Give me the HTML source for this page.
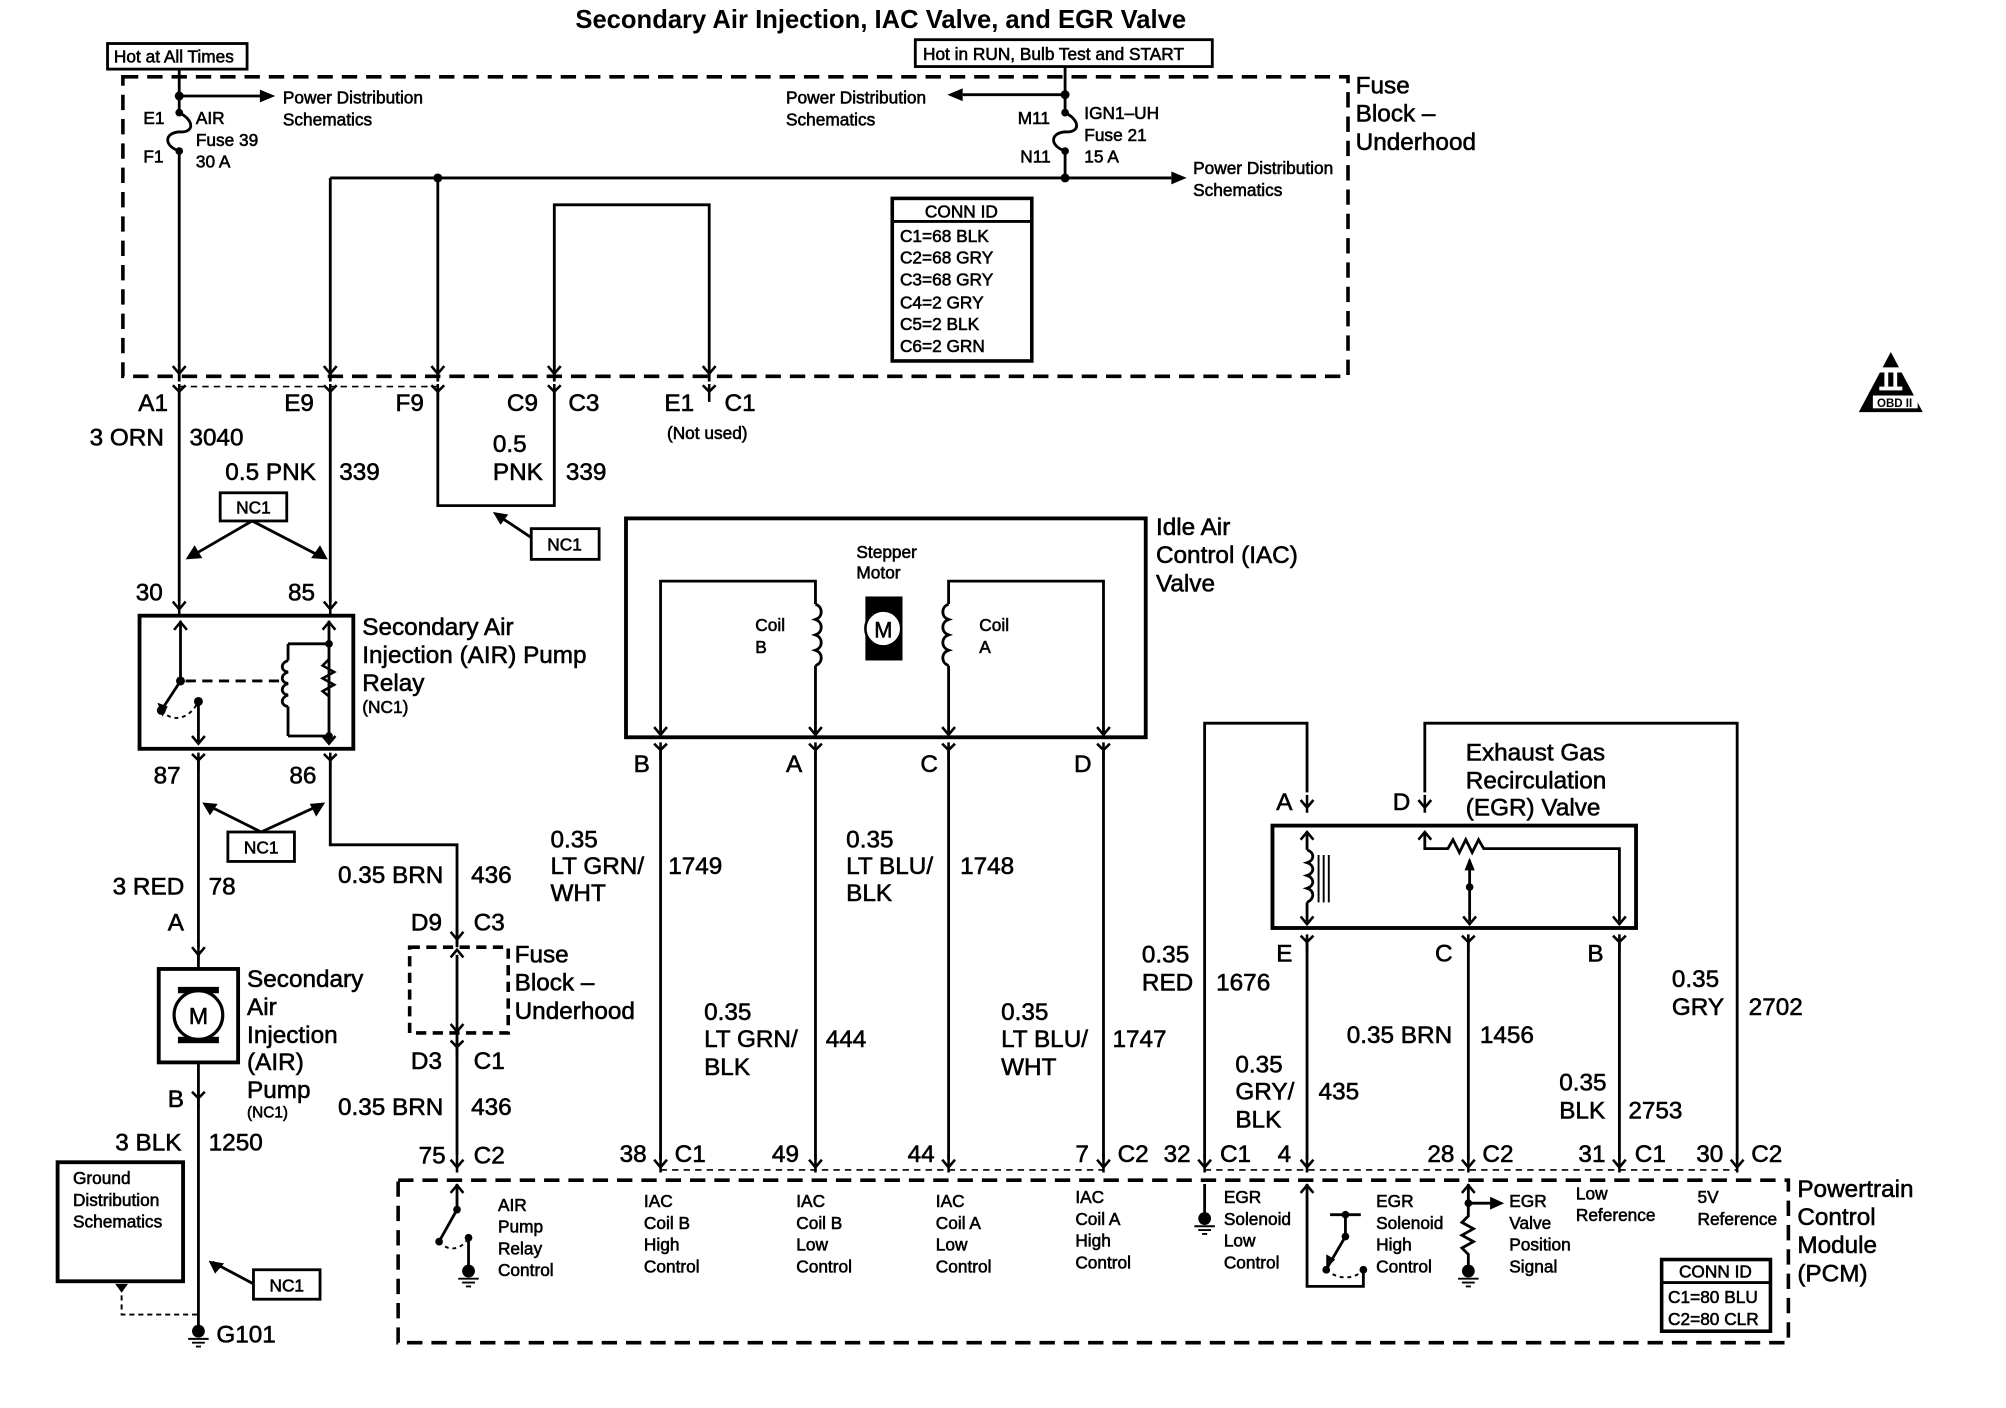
<!DOCTYPE html>
<html><head><meta charset="utf-8"><style>
html,body{margin:0;padding:0;background:#fff}
svg{display:block}
text{font-family:"Liberation Sans",Arial,sans-serif;fill:#000;stroke:#000;stroke-width:0.45}
.L{font-size:19px}
.S{font-size:13.5px}
.T{font-size:20px;font-weight:bold;stroke:none}
</style></head><body>
<svg width="2006" height="1408" viewBox="0 0 1567 1100" preserveAspectRatio="none" xmlns="http://www.w3.org/2000/svg">
<defs>
<g id="ya"><path d="M0,-6 V8 M-5,-2 L0,4 L5,-2" fill="none" stroke="#000" stroke-width="2"/></g>
<g id="yd"><path d="M0,-6 V8 M-5,-5 L0,0 L5,-5" fill="none" stroke="#000" stroke-width="2"/></g>
<g id="ad"><path d="M-5,-6 L0,0 L5,-6" fill="none" stroke="#000" stroke-width="2"/></g>
<g id="au"><path d="M-5,6 L0,0 L5,6" fill="none" stroke="#000" stroke-width="2"/></g>
<g id="gnd"><circle cx="0" cy="0" r="5"/><path d="M-8,6 H8 M-5,9 H5 M-2,12 H2" stroke="#000" stroke-width="1.5"/></g>
</defs>
<rect width="1567" height="1100" fill="#fff"/>
<g fill="none" stroke="#000" stroke-width="2.2">
<rect x="96" y="60" width="957" height="234" stroke-dasharray="12,7" stroke-width="2.8"/>
<rect x="84" y="34" width="109" height="20"/>
<rect x="715" y="31" width="232" height="21"/>
<path d="M140,54 V88 M140,118 V298"/>
<path d="M140,88 C152,94 152,104 140,103 C128,104 128,114 140,118"/>
<path d="M140,75 H205"/>
<path d="M832,52 V88 M832,118 V139"/>
<path d="M832,88 C844,94 844,104 832,103 C820,104 820,114 832,118"/>
<path d="M832,74 H752"/>
<path d="M258,139 H915"/>
<path d="M258,139 V298 M342,139 V298"/>
<path d="M433,298 V160 H554 V298"/>
<rect x="697" y="155" width="109" height="127" stroke-width="2.8"/>
<path d="M697,173 H806"/>
<path d="M140,302 H342" stroke-dasharray="5,4" stroke-width="1.3"/>
<path d="M516,914 H862 M941,914 H1357" stroke-dasharray="5,4" stroke-width="1.3"/>
<path d="M140,306 V470 M258,306 V470"/>
<path d="M342,306 V395 H433 V306"/>
<rect x="172" y="385" width="52" height="22"/>
<path d="M197,407 L147,436 M197,407 L253,436"/>
<rect x="415" y="413" width="53" height="24"/>
<path d="M415,420 L388,402"/>
<rect x="109" y="481" width="167" height="104" stroke-width="3"/>
<path d="M141,485 V532 L126,555 M257,485 V580 M155,548 V580" />
<path d="M145,532 H218" stroke-dasharray="8,5"/>
<path d="M126,555 C135,565 148,562 155,548" stroke-dasharray="3,3" stroke-width="1.5"/>
<path d="M225,503 H257 M225,575 H257 M225,503 V516 M225,552 V575"/>
<path d="M225,516 c-6,2 -6,8 0,9 c-6,2 -6,8 0,9 c-6,2 -6,8 0,9 c-6,2 -6,8 0,9"/>
<path d="M257,515 l-5,5 l9,5 l-9,5 l9,5 l-9,5 l5,4" stroke-width="2"/>
<path d="M155,594 V740 M258,594 V660 H357 V740"/>
<rect x="178" y="650" width="52" height="23"/>
<path d="M204,650 L160,628 M204,650 L252,628"/>
<rect x="124" y="757" width="62" height="73" stroke-width="3"/>
<path d="M155,746 V757 M155,830 V1040"/>
<rect x="45" y="908" width="98" height="93" stroke-width="3"/>
<path d="M95,1012 V1027 H155" stroke-dasharray="4,3" stroke-width="1.5"/>
<rect x="198" y="992" width="52" height="23"/>
<path d="M198,1003 L166,986"/>
<rect x="320" y="740" width="77" height="67" stroke-dasharray="8,5" stroke-width="2.8"/>
<path d="M357,746 V902"/>
<rect x="489" y="405" width="406" height="171" stroke-width="3"/>
<path d="M516,574 V454 H637 V472 M637,520 V574"/>
<path d="M637,472 c6,2 6,10 0,12 c6,2 6,10 0,12 c6,2 6,10 0,12 c6,2 6,10 0,12"/>
<path d="M862,574 V454 H741 V472 M741,520 V574"/>
<path d="M741,472 c-6,2 -6,10 0,12 c-6,2 -6,10 0,12 c-6,2 -6,10 0,12 c-6,2 -6,10 0,12"/>
<path d="M516,586 V906 M637,586 V906 M741,586 V906 M862,586 V906"/>
<path d="M941,906 V565 H1021 V619 M1113,619 V565 H1357 V906"/>
<rect x="994" y="645" width="284" height="80" stroke-width="3"/>
<path d="M1021,650 V664 M1021,705 V720"/>
<path d="M1021,664 c6,2 6,8 0,10 c6,2 6,8 0,10 c6,2 6,8 0,10 c6,2 6,8 0,11"/>
<path d="M1030,668 V705 M1034,668 V705 M1038,668 V705" stroke-width="1.5"/>
<path d="M1113,650 V663 H1131 l4,-7 l5,10 l5,-10 l5,10 l5,-10 l4,7 H1265 V720"/>
<path d="M1148,672 V720"/>
<path d="M1021,736 V906 M1147,736 V906 M1265,736 V906"/>
<rect x="311" y="922" width="1086" height="127" stroke-dasharray="12,7" stroke-width="2.8"/>
<path d="M357,925 V945 L343,970" />
<path d="M343,970 C350,978 360,977 366,967" stroke-dasharray="3,3" stroke-width="1.5" />
<path d="M366,967 V990"/>
<path d="M941,925 V950"/>
<path d="M1021,925 V1005 H1065 V992 M1039,949 H1063 M1051,949 V966 L1037,990"/>
<path d="M1036,992 C1045,1000 1058,1000 1065,992" stroke-dasharray="3,3" stroke-width="1.5"/>
<path d="M1147,925 V940 H1165 M1147,940 V950 l-5,5 l9,5 l-9,5 l9,5 l-9,5 l5,5 V990"/>
<rect x="1298" y="984" width="85" height="56" stroke-width="2.8"/>
<path d="M1298,1002 H1383"/>
</g>
<g fill="#000">
<circle cx="140" cy="75" r="3.5"/><circle cx="140" cy="88" r="3"/><circle cx="140" cy="118" r="3"/>
<circle cx="832" cy="74" r="3.5"/><circle cx="832" cy="88" r="3"/><circle cx="832" cy="118" r="3"/>
<circle cx="832" cy="139" r="3.5"/><circle cx="342" cy="139" r="3.5"/>
<circle cx="141" cy="532" r="3.5"/><circle cx="126" cy="555" r="3.5"/><circle cx="155" cy="548" r="3.5"/>
<circle cx="257" cy="503" r="3"/><circle cx="257" cy="575" r="3"/>
<circle cx="1148" cy="693" r="3"/>
<circle cx="357" cy="945" r="3"/><circle cx="343" cy="970" r="3"/><circle cx="366" cy="967" r="3"/>
<circle cx="1051" cy="949" r="3"/><circle cx="1051" cy="966" r="3"/><circle cx="1036" cy="992" r="3"/><circle cx="1065" cy="992" r="3"/><circle cx="1147" cy="940" r="3"/>
<path d="M215,75 L203,70 L203,80Z"/><path d="M740,74 L752,69 L752,79Z"/><path d="M927,139 L915,134 L915,144Z"/>
<path d="M1175,940 L1164,935 L1164,945Z"/>
<path d="M95,1010 L90,1003 L100,1003Z"/>
<path d="M145,437 L158,436 L152,426Z"/><path d="M256,437 L250,426 L243,436Z"/>
<path d="M385,400 L397,402 L391,410Z"/>
<path d="M158,627 L164,637 L170,628Z"/><path d="M254,627 L242,628 L247,638Z"/>
<path d="M163,985 L168,995 L175,987Z"/>
<path d="M127,560 L123,549 L131,552Z"/>
<path d="M1036,991 L1036,980 L1043,984Z"/>
<path d="M1148,670 L1144,680 L1152,680Z"/>
<rect x="676" y="466" width="29" height="50"/>
<path d="M1452,322 L1477,275 L1502,322Z"/>
</g>
<circle cx="690" cy="491" r="14" fill="#fff" stroke="#000" stroke-width="2"/>
<rect x="139" y="771" width="32" height="5" fill="#000"/><rect x="139" y="810" width="32" height="5" fill="#000"/>
<circle cx="155" cy="793" r="19" fill="#fff" stroke="#000" stroke-width="2.5"/>
<rect x="1468" y="287" width="18" height="4" fill="#fff"/><rect x="1468" y="302" width="18" height="3" fill="#fff"/>
<rect x="1472" y="291" width="3" height="11" fill="#fff"/><rect x="1479" y="291" width="3" height="11" fill="#fff"/>
<rect x="1463" y="309" width="35" height="10" fill="#fff"/>
<text x="1480" y="318" font-size="9" text-anchor="middle" style="font-weight:bold;stroke:none">OBD II</text>
<g>
<use href="#ad" x="140" y="292"/><use href="#ad" x="258" y="292"/><use href="#ad" x="342" y="292"/><use href="#ad" x="433" y="292"/><use href="#ad" x="554" y="292"/>
<use href="#yd" x="140" y="306"/><use href="#yd" x="258" y="306"/><use href="#yd" x="342" y="306"/><use href="#yd" x="433" y="306"/><use href="#yd" x="554" y="306"/>
<use href="#ya" x="140" y="472"/><use href="#ya" x="258" y="472"/>
<use href="#au" x="141" y="486"/><use href="#au" x="257" y="486"/>
<use href="#ad" x="155" y="581"/><use href="#ad" x="257" y="581"/>
<use href="#yd" x="155" y="594"/><use href="#yd" x="258" y="594"/>
<use href="#ya" x="155" y="742"/><use href="#ya" x="357" y="730"/>
<use href="#ad" x="357" y="806"/><use href="#au" x="357" y="742"/>
<use href="#yd" x="357" y="818"/>
<use href="#yd" x="155" y="858"/>
<use href="#ad" x="516" y="574"/><use href="#ad" x="637" y="574"/><use href="#ad" x="741" y="574"/><use href="#ad" x="862" y="574"/>
<use href="#yd" x="516" y="586"/><use href="#yd" x="637" y="586"/><use href="#yd" x="741" y="586"/><use href="#yd" x="862" y="586"/>
<use href="#ya" x="1021" y="627"/><use href="#ya" x="1113" y="627"/>
<use href="#au" x="1021" y="650"/><use href="#au" x="1113" y="650"/>
<use href="#ad" x="1021" y="722"/><use href="#ad" x="1148" y="722"/><use href="#ad" x="1265" y="722"/>
<use href="#yd" x="1021" y="736"/><use href="#yd" x="1147" y="736"/><use href="#yd" x="1265" y="736"/>
<use href="#ya" x="357" y="908"/><use href="#ya" x="516" y="908"/><use href="#ya" x="637" y="908"/><use href="#ya" x="741" y="908"/><use href="#ya" x="862" y="908"/>
<use href="#ya" x="941" y="908"/><use href="#ya" x="1021" y="908"/><use href="#ya" x="1147" y="908"/><use href="#ya" x="1265" y="908"/><use href="#ya" x="1357" y="908"/>
<use href="#au" x="357" y="926"/><use href="#au" x="1021" y="926"/><use href="#au" x="1147" y="926"/>
<use href="#gnd" x="155" y="1040"/><use href="#gnd" x="941" y="952"/><use href="#gnd" x="366" y="993"/><use href="#gnd" x="1147" y="993"/>
</g>
<text class="T" x="688" y="22" text-anchor="middle">Secondary Air Injection, IAC Valve, and EGR Valve</text>
<g class="S">
<text x="89" y="49">Hot at All Times</text>
<text x="721" y="47">Hot in RUN, Bulb Test and START</text>
<text x="221" y="81">Power Distribution</text><text x="221" y="98">Schematics</text>
<text x="112" y="97">E1</text><text x="112" y="127">F1</text>
<text x="153" y="97">AIR</text><text x="153" y="114">Fuse 39</text><text x="153" y="131">30 A</text>
<text x="614" y="81">Power Distribution</text><text x="614" y="98">Schematics</text>
<text x="795" y="97">M11</text><text x="797" y="127">N11</text>
<text x="847" y="93">IGN1–UH</text><text x="847" y="110">Fuse 21</text><text x="847" y="127">15 A</text>
<text x="932" y="136">Power Distribution</text><text x="932" y="153">Schematics</text>
<text x="751" y="170" text-anchor="middle">CONN ID</text>
<text x="703" y="189">C1=68 BLK</text><text x="703" y="206">C2=68 GRY</text><text x="703" y="223">C3=68 GRY</text><text x="703" y="241">C4=2 GRY</text><text x="703" y="258">C5=2 BLK</text><text x="703" y="275">C6=2 GRN</text>
<text x="521" y="343">(Not used)</text>
<text x="198" y="401" text-anchor="middle">NC1</text><text x="441" y="430" text-anchor="middle">NC1</text>
<text x="204" y="667" text-anchor="middle">NC1</text><text x="224" y="1009" text-anchor="middle">NC1</text>
<text x="283" y="557">(NC1)</text><text x="193" y="873" font-size="12">(NC1)</text>
<text x="57" y="925">Ground</text><text x="57" y="942">Distribution</text><text x="57" y="959">Schematics</text>
<text x="669" y="436">Stepper</text><text x="669" y="452">Motor</text>
<text x="590" y="493">Coil</text><text x="590" y="510">B</text>
<text x="765" y="493">Coil</text><text x="765" y="510">A</text>
<text x="389" y="946">AIR</text><text x="389" y="963">Pump</text><text x="389" y="980">Relay</text><text x="389" y="997">Control</text>
<text x="503" y="943">IAC</text><text x="503" y="960">Coil B</text><text x="503" y="977">High</text><text x="503" y="994">Control</text>
<text x="622" y="943">IAC</text><text x="622" y="960">Coil B</text><text x="622" y="977">Low</text><text x="622" y="994">Control</text>
<text x="731" y="943">IAC</text><text x="731" y="960">Coil A</text><text x="731" y="977">Low</text><text x="731" y="994">Control</text>
<text x="840" y="940">IAC</text><text x="840" y="957">Coil A</text><text x="840" y="974">High</text><text x="840" y="991">Control</text>
<text x="956" y="940">EGR</text><text x="956" y="957">Solenoid</text><text x="956" y="974">Low</text><text x="956" y="991">Control</text>
<text x="1075" y="943">EGR</text><text x="1075" y="960">Solenoid</text><text x="1075" y="977">High</text><text x="1075" y="994">Control</text>
<text x="1179" y="943">EGR</text><text x="1179" y="960">Valve</text><text x="1179" y="977">Position</text><text x="1179" y="994">Signal</text>
<text x="1231" y="937">Low</text><text x="1231" y="954">Reference</text>
<text x="1326" y="940">5V</text><text x="1326" y="957">Reference</text>
<text x="1340" y="998" text-anchor="middle">CONN ID</text>
<text x="1303" y="1018">C1=80 BLU</text><text x="1303" y="1035">C2=80 CLR</text>
</g>
<g class="L">
<text x="1059" y="73">Fuse</text><text x="1059" y="95">Block –</text><text x="1059" y="117">Underhood</text>
<text x="108" y="321">A1</text><text x="222" y="321">E9</text><text x="309" y="321">F9</text><text x="396" y="321">C9</text><text x="444" y="321">C3</text><text x="519" y="321">E1</text><text x="566" y="321">C1</text>
<text x="70" y="348">3 ORN</text><text x="148" y="348">3040</text>
<text x="176" y="375">0.5 PNK</text><text x="265" y="375">339</text>
<text x="385" y="353">0.5</text><text x="385" y="375">PNK</text><text x="442" y="375">339</text>
<text x="106" y="469">30</text><text x="225" y="469">85</text>
<text x="283" y="496">Secondary Air</text><text x="283" y="518">Injection (AIR) Pump</text><text x="283" y="540">Relay</text>
<text x="120" y="612">87</text><text x="226" y="612">86</text>
<text x="264" y="690">0.35 BRN</text><text x="368" y="690">436</text>
<text x="88" y="699">3 RED</text><text x="163" y="699">78</text>
<text x="131" y="727">A</text>
<text x="193" y="771">Secondary</text><text x="193" y="793">Air</text><text x="193" y="815">Injection</text><text x="193" y="836">(AIR)</text><text x="193" y="858">Pump</text>
<text x="155" y="800" font-size="18" text-anchor="middle">M</text>
<text x="690" y="498" font-size="17" text-anchor="middle">M</text>
<text x="131" y="865">B</text>
<text x="90" y="899">3 BLK</text><text x="163" y="899">1250</text>
<text x="169" y="1049">G101</text>
<text x="321" y="727">D9</text><text x="370" y="727">C3</text>
<text x="402" y="752">Fuse</text><text x="402" y="774">Block –</text><text x="402" y="796">Underhood</text>
<text x="321" y="835">D3</text><text x="370" y="835">C1</text>
<text x="264" y="871">0.35 BRN</text><text x="368" y="871">436</text>
<text x="327" y="909">75</text><text x="370" y="909">C2</text>
<text x="903" y="418">Idle Air</text><text x="903" y="440">Control (IAC)</text><text x="903" y="462">Valve</text>
<text x="495" y="603">B</text><text x="614" y="603">A</text><text x="719" y="603">C</text><text x="839" y="603">D</text>
<text x="430" y="662">0.35</text><text x="430" y="683">LT GRN/</text><text x="430" y="704">WHT</text><text x="522" y="683">1749</text>
<text x="661" y="662">0.35</text><text x="661" y="683">LT BLU/</text><text x="661" y="704">BLK</text><text x="750" y="683">1748</text>
<text x="550" y="797">0.35</text><text x="550" y="818">LT GRN/</text><text x="550" y="840">BLK</text><text x="645" y="818">444</text>
<text x="782" y="797">0.35</text><text x="782" y="818">LT BLU/</text><text x="782" y="840">WHT</text><text x="869" y="818">1747</text>
<text x="484" y="908">38</text><text x="527" y="908">C1</text><text x="603" y="908">49</text><text x="709" y="908">44</text><text x="840" y="908">7</text><text x="873" y="908">C2</text><text x="909" y="908">32</text><text x="953" y="908">C1</text><text x="998" y="908">4</text><text x="1115" y="908">28</text><text x="1158" y="908">C2</text><text x="1233" y="908">31</text><text x="1277" y="908">C1</text><text x="1325" y="908">30</text><text x="1368" y="908">C2</text>
<text x="1145" y="594">Exhaust Gas</text><text x="1145" y="616">Recirculation</text><text x="1145" y="637">(EGR) Valve</text>
<text x="997" y="633">A</text><text x="1088" y="633">D</text>
<text x="997" y="751">E</text><text x="1121" y="751">C</text><text x="1240" y="751">B</text>
<text x="892" y="752">0.35</text><text x="892" y="774">RED</text><text x="950" y="774">1676</text>
<text x="965" y="838">0.35</text><text x="965" y="859">GRY/</text><text x="965" y="881">BLK</text><text x="1030" y="859">435</text>
<text x="1052" y="815">0.35 BRN</text><text x="1156" y="815">1456</text>
<text x="1218" y="852">0.35</text><text x="1218" y="874">BLK</text><text x="1272" y="874">2753</text>
<text x="1306" y="771">0.35</text><text x="1306" y="793">GRY</text><text x="1366" y="793">2702</text>
<text x="1404" y="935">Powertrain</text><text x="1404" y="957">Control</text><text x="1404" y="979">Module</text><text x="1404" y="1001">(PCM)</text>
</g>
</svg>
</body></html>
